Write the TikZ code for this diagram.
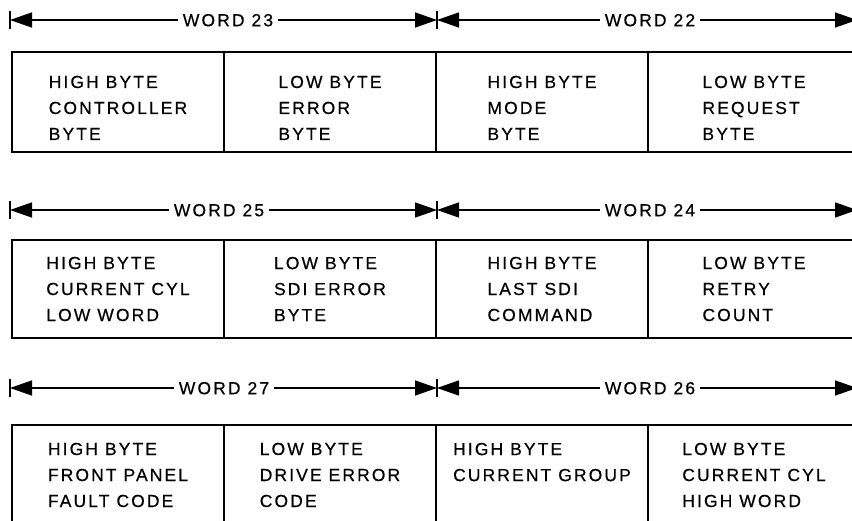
\documentclass[tikz,border=0pt]{standalone}
\usepackage{fontspec}
\setmainfont{Liberation Sans}[LetterSpace=12, FakeBold=0.5]
\usetikzlibrary{arrows.meta, positioning}

\tikzset{
  cell/.style={draw, rectangle, line width=1.7pt, outer sep=0pt, inner sep=0pt,
    minimum width=212pt, minimum height=100pt, align=left,
    font=\fontsize{17.5}{26}\selectfont},
  topcell/.style={cell, text height=76pt},
  wordlbl/.style={inner sep=5pt, text height=12.5pt, text depth=0pt,
    font=\fontsize{17.5}{20}\selectfont},
  dimline/.style={line width=1.5pt, -{Triangle[length=22pt, width=15pt]}},
  tickmark/.style={line width=1.4pt}
}

\begin{document}
\begin{tikzpicture}[x=1pt, y=-1pt]
\clip (0,0) rectangle (852,521);

% row 1: words 23 and 22
\coordinate (a0) at (10,20);
\coordinate (a1) at (437,20);
\coordinate (a2) at (857,20);
\node[wordlbl] (w23) at (228,20) {WORD 23};
\node[wordlbl] (w22) at (650,20) {WORD 22};
\draw[dimline] (w23) -- (a0); \draw[dimline] (w23) -- (a1);
\draw[dimline] (w22) -- (a1); \draw[dimline] (w22) -- (a2);
\draw[tickmark] (a0) ++(0,-9) -- ++(0,18);
\draw[tickmark] (a1) ++(0,-9) -- ++(0,18);
\node[topcell, anchor=north west] (c23h) at (12,52) {HIGH BYTE\\CONTROLLER\\BYTE};
\node[topcell, right=0pt of c23h] (c23l) {LOW BYTE\\ERROR\\BYTE};
\node[topcell, right=0pt of c23l] (c22h) {HIGH BYTE\\MODE\\BYTE};
\node[topcell, right=0pt of c22h] (c22l) {LOW BYTE\\REQUEST\\BYTE};

% row 2: words 25 and 24
\coordinate (b0) at (10,210);
\coordinate (b1) at (437,210);
\coordinate (b2) at (857,210);
\node[wordlbl] (w25) at (219,210) {WORD 25};
\node[wordlbl] (w24) at (650,210) {WORD 24};
\draw[dimline] (w25) -- (b0); \draw[dimline] (w25) -- (b1);
\draw[dimline] (w24) -- (b1); \draw[dimline] (w24) -- (b2);
\draw[tickmark] (b0) ++(0,-9) -- ++(0,18);
\draw[tickmark] (b1) ++(0,-9) -- ++(0,18);
\node[cell, anchor=north west, minimum height=98pt] (c25h) at (12,240) {HIGH BYTE\\CURRENT CYL\\LOW WORD};
\node[cell, right=0pt of c25h, minimum height=98pt] (c25l) {LOW BYTE\\SDI ERROR\\BYTE};
\node[cell, right=0pt of c25l, minimum height=98pt] (c24h) {HIGH BYTE\\LAST SDI\\COMMAND};
\node[cell, right=0pt of c24h, minimum height=98pt] (c24l) {LOW BYTE\\RETRY\\COUNT};

% row 3: words 27 and 26
\coordinate (d0) at (10,388);
\coordinate (d1) at (437,388);
\coordinate (d2) at (857,388);
\node[wordlbl] (w27) at (224,388) {WORD 27};
\node[wordlbl] (w26) at (650,388) {WORD 26};
\draw[dimline] (w27) -- (d0); \draw[dimline] (w27) -- (d1);
\draw[dimline] (w26) -- (d1); \draw[dimline] (w26) -- (d2);
\draw[tickmark] (d0) ++(0,-9) -- ++(0,18);
\draw[tickmark] (d1) ++(0,-9) -- ++(0,18);
\node[cell, anchor=north west] (c27h) at (12,425) {HIGH BYTE\\FRONT PANEL\\FAULT CODE};
\node[cell, right=0pt of c27h] (c27l) {LOW BYTE\\DRIVE ERROR\\CODE};
\node[cell, right=0pt of c27l] (c26h) {HIGH BYTE\\CURRENT GROUP\\\phantom{X}};
\node[cell, right=0pt of c26h] (c26l) {LOW BYTE\\CURRENT CYL\\HIGH WORD};
\end{tikzpicture}
\end{document}
